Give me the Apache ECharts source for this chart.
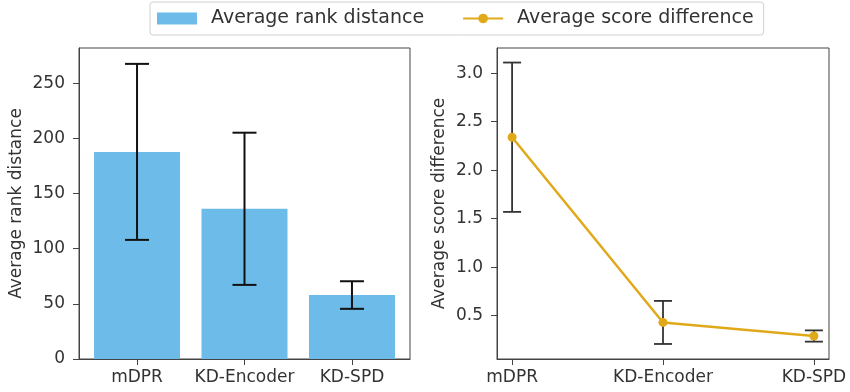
<!DOCTYPE html>
<html>
<head>
<meta charset="utf-8">
<script src="https://cdn.jsdelivr.net/npm/echarts@6/dist/echarts.min.js"></script>
<style>
html,body{margin:0;padding:0;background:#fff;}
#chart{width:850px;height:392px;}
</style>
</head>
<body>
<div id="chart"></div>
<script>
const categories = ['mDPR', 'KD-Encoder', 'KD-SPD'];
const rankDistance = [187.8, 136.2, 58.0];
const rankDistanceErr = [79.8, 69.0, 12.5];
const scoreDiff = [2.34, 0.43, 0.29];
const scoreDiffErr = [0.77, 0.222, 0.058];
const rankTicks = [0, 50, 100, 150, 200, 250];
const scoreTicks = [0.5, 1.0, 1.5, 2.0, 2.5, 3.0];

const FONT = 'DejaVu Sans';
const TXT = '#333';
const BLUE = '#6cbbe8';
const GOLD = '#e0a91a';
const idx = categories.map((c, i) => i);

function errRender(capW, color, lw) {
  return function (params, api) {
    const x = api.value(0), lo = api.value(1), hi = api.value(2);
    const p1 = api.coord([x, hi]), p2 = api.coord([x, lo]);
    const st = { stroke: color, lineWidth: lw };
    return {
      type: 'group',
      children: [
        { type: 'line', shape: { x1: p1[0], y1: p1[1], x2: p2[0], y2: p2[1] }, style: st },
        { type: 'line', shape: { x1: p1[0] - capW / 2, y1: p1[1], x2: p1[0] + capW / 2, y2: p1[1] }, style: st },
        { type: 'line', shape: { x1: p2[0] - capW / 2, y1: p2[1], x2: p2[0] + capW / 2, y2: p2[1] }, style: st }
      ]
    };
  };
}

function xAxisDef(gi, mn, mx) {
  return {
    type: 'value', gridIndex: gi, min: mn, max: mx,
    splitLine: { show: false },
    axisLine: { show: true, onZero: false, lineStyle: { color: '#444', width: 1 } },
    axisTick: { show: true, length: 6, customValues: idx, lineStyle: { color: '#444' } },
    axisLabel: {
      customValues: idx, margin: 10, fontFamily: FONT, fontSize: 17, color: TXT,
      formatter: v => categories[Math.round(v)]
    }
  };
}

function yAxisDef(gi, mn, mx, ticks, name, gap, fmt) {
  return {
    type: 'value', gridIndex: gi, min: mn, max: mx,
    name: name, nameLocation: 'middle', nameGap: gap,
    nameTextStyle: { fontFamily: FONT, fontSize: 17, color: TXT },
    splitLine: { show: false },
    axisLine: { show: true, onZero: false, lineStyle: { color: '#444', width: 1 } },
    axisTick: { show: true, length: 6, customValues: ticks, lineStyle: { color: '#444' } },
    axisLabel: {
      customValues: ticks, margin: 14, fontFamily: FONT, fontSize: 17, color: TXT,
      formatter: fmt
    }
  };
}

const chart = echarts.init(document.getElementById('chart'), null, { renderer: 'canvas' });
chart.setOption({
  animation: false,
  backgroundColor: '#fff',
  legend: {
    left: 150, top: 2,
    padding: [7, 10, 7, 7],
    itemGap: 38, itemWidth: 40, itemHeight: 12,
    borderColor: '#d0d0d0', borderWidth: 1, borderRadius: 3,
    textStyle: { fontFamily: FONT, fontSize: 19, color: TXT, padding: [0, 0, 0, 9] },
    data: [
      { name: 'Average rank distance', icon: 'rect' },
      { name: 'Average score difference' }
    ]
  },
  grid: [
    { left: 79, top: 48, width: 331, height: 311, show: true, borderColor: '#444', borderWidth: 1, containLabel: false },
    { left: 497, top: 48, width: 332, height: 311, show: true, borderColor: '#444', borderWidth: 1, containLabel: false }
  ],
  xAxis: [xAxisDef(0, -0.54, 2.54), xAxisDef(1, -0.1, 2.1)],
  yAxis: [
    yAxisDef(0, 0, 282, rankTicks, 'Average rank distance', 54, v => String(v)),
    yAxisDef(1, 0.053, 3.26, scoreTicks, 'Average score difference', 49, v => v.toFixed(1))
  ],
  series: [
    {
      name: 'Average rank distance', type: 'bar', xAxisIndex: 0, yAxisIndex: 0,
      barWidth: 86,
      itemStyle: { color: BLUE },
      data: rankDistance.map((v, i) => [i, v])
    },
    {
      name: 'rankErr', type: 'custom', xAxisIndex: 0, yAxisIndex: 0, z: 5,
      renderItem: errRender(24, '#111', 2),
      data: rankDistance.map((v, i) => [i, v - rankDistanceErr[i], v + rankDistanceErr[i]])
    },
    {
      name: 'scoreErr', type: 'custom', xAxisIndex: 1, yAxisIndex: 1, z: 2,
      renderItem: errRender(18, '#333', 1.8),
      data: scoreDiff.map((v, i) => [i, v - scoreDiffErr[i], v + scoreDiffErr[i]])
    },
    {
      name: 'Average score difference', type: 'line', xAxisIndex: 1, yAxisIndex: 1, z: 4,
      symbol: 'circle', symbolSize: 9, showSymbol: true,
      lineStyle: { color: GOLD, width: 2.5 },
      itemStyle: { color: GOLD },
      data: scoreDiff.map((v, i) => [i, v])
    }
  ]
});
</script>
</body>
</html>
